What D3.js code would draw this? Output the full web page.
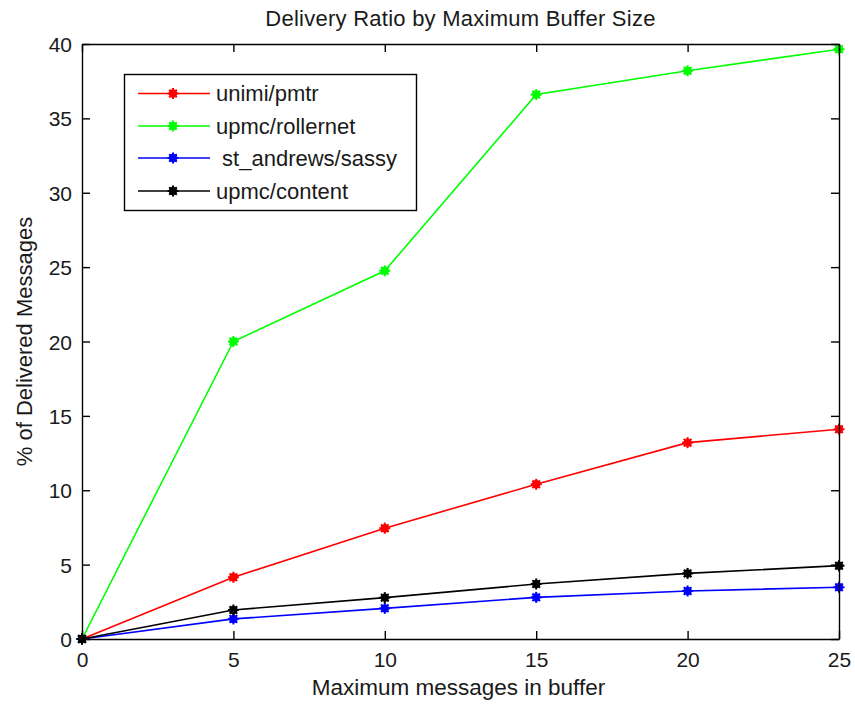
<!DOCTYPE html>
<html>
<head>
<meta charset="utf-8">
<script src="https://cdn.jsdelivr.net/npm/d3@7/dist/d3.min.js"></script>
<style>
  html, body { margin: 0; padding: 0; background: #fff; }
  svg { display: block; }
  text { font-family: "Liberation Sans", Arial, Helvetica, sans-serif; fill: #1a1a1a; }
</style>
</head>
<body>
<svg id="chart" width="855" height="706"></svg>
<script>
// Buffer sizes (x) and delivery percentages per trace
const bufferSizes = [0, 5, 10, 15, 20, 25];
const seriesNames = ["unimi/pmtr", "upmc/rollernet", " st_andrews/sassy", "upmc/content"];
const seriesColors = ["#ff0000", "#00ff00", "#0000ff", "#000000"];
const pmtr      = [0, 4.15, 7.45, 10.4, 13.2, 14.1];
const rollernet = [0, 20.0, 24.75, 36.6, 38.2, 39.65];
const sassy     = [0, 1.35, 2.06, 2.8, 3.23, 3.48];
const content   = [0, 1.95, 2.78, 3.7, 4.41, 4.93];
const seriesValues = [pmtr, rollernet, sassy, content];
const xTicks = [0, 5, 10, 15, 20, 25];
const yTicks = [0, 5, 10, 15, 20, 25, 30, 35, 40];

const titleText = "Delivery Ratio by Maximum Buffer Size";
const xLabel = "Maximum messages in buffer";
const yLabel = "% of Delivered Messages";

const svg = d3.select("#chart");
const plotL = 82, plotR = 839, plotT = 44, plotB = 639;

const x = d3.scaleLinear().domain([0, 25]).range([plotL, plotR]);
const y = d3.scaleLinear().domain([0, 40]).range([plotB, plotT]);

// Data lines
const line = d3.line().x((d, i) => x(bufferSizes[i])).y(d => y(d));
const g = svg.append("g");

seriesValues.forEach((vals, k) => {
  g.append("path")
    .attr("d", line(vals))
    .attr("fill", "none")
    .attr("stroke", seriesColors[k])
    .attr("stroke-width", 1.6);
});

// '*' style markers drawn as a dense star blob
function marker(sel, cx, cy, color) {
  const m = sel.append("g").attr("transform", `translate(${cx},${cy})`);
  m.append("circle").attr("r", 4.2).attr("fill", color);
  const r = 5.5;
  [[-r, 0, r, 0], [0, -r, 0, r], [-3.8, -3.8, 3.8, 3.8], [-3.8, 3.8, 3.8, -3.8]].forEach(s => {
    m.append("line")
      .attr("x1", s[0]).attr("y1", s[1]).attr("x2", s[2]).attr("y2", s[3])
      .attr("stroke", color).attr("stroke-width", 2);
  });
}

seriesValues.forEach((vals, k) => {
  vals.forEach((v, i) => marker(g, x(bufferSizes[i]), y(v), seriesColors[k]));
});

// Axes box with inward ticks on all four sides
const axisG = svg.append("g");
const tickLen = 8;
const xAxisB = d3.axisBottom(x).tickValues(xTicks).tickSizeInner(-tickLen).tickSizeOuter(0).tickPadding(12);
const xAxisT = d3.axisTop(x).tickValues(xTicks).tickSizeInner(-tickLen).tickSizeOuter(0).tickFormat("");
const yAxisL = d3.axisLeft(y).tickValues(yTicks).tickSizeInner(-tickLen).tickSizeOuter(0).tickPadding(10);
const yAxisR = d3.axisRight(y).tickValues(yTicks).tickSizeInner(-tickLen).tickSizeOuter(0).tickFormat("");

const gb = axisG.append("g").attr("transform", `translate(0,${plotB})`).call(xAxisB);
const gt = axisG.append("g").attr("transform", `translate(0,${plotT})`).call(xAxisT);
const gl = axisG.append("g").attr("transform", `translate(${plotL},0)`).call(yAxisL);
const gr = axisG.append("g").attr("transform", `translate(${plotR},0)`).call(yAxisR);

[gb, gt, gl, gr].forEach(a => {
  a.select(".domain").attr("stroke", "#000").attr("stroke-width", 1.4);
  a.selectAll(".tick line").attr("stroke", "#000").attr("stroke-width", 1.4);
  a.selectAll(".tick text").attr("font-size", 21).attr("fill", "#1a1a1a")
    .style("font-family", "'Liberation Sans', Arial, sans-serif");
});
gb.selectAll(".tick text").attr("dy", "0.75em");
gl.selectAll(".tick text").attr("dy", "0.36em");

// Title and axis labels
svg.append("text").attr("x", (plotL + plotR) / 2).attr("y", 26)
  .attr("text-anchor", "middle").attr("font-size", 22).attr("letter-spacing", 0.25).text(titleText);
svg.append("text").attr("x", (plotL + plotR) / 2 - 2).attr("y", 695)
  .attr("text-anchor", "middle").attr("font-size", 22.5).text(xLabel);
svg.append("text")
  .attr("transform", `translate(32,${(plotT + plotB) / 2}) rotate(-90)`)
  .attr("text-anchor", "middle").attr("font-size", 22).text(yLabel);

// Legend
const lg = svg.append("g");
lg.append("rect").attr("x", 124.5).attr("y", 74.5).attr("width", 292).attr("height", 136)
  .attr("fill", "#fff").attr("stroke", "#000").attr("stroke-width", 1.4);
const rowY = [93.5, 126, 158, 191];
seriesNames.forEach((name, k) => {
  lg.append("line").attr("x1", 138).attr("x2", 210).attr("y1", rowY[k]).attr("y2", rowY[k])
    .attr("stroke", seriesColors[k]).attr("stroke-width", 1.6);
  marker(lg, 173, rowY[k], seriesColors[k]);
  lg.append("text").attr("x", 216).attr("y", rowY[k]).attr("dy", "0.36em")
    .attr("font-size", 22).attr("xml:space", "preserve").style("white-space", "pre").text(name);
});
</script>
</body>
</html>
